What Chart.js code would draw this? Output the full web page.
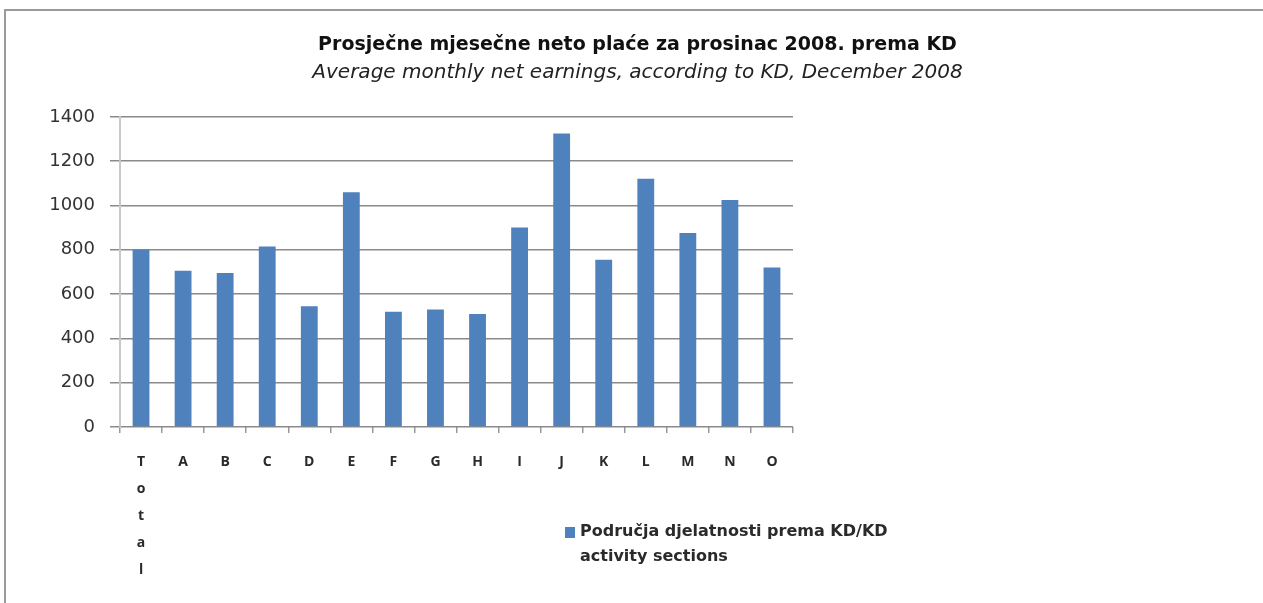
<!DOCTYPE html>
<html lang="hr">
<head>
  <meta charset="UTF-8">
  <title>Prosječne mjesečne neto plaće za prosinac 2008. prema KD</title>
  <script src="https://cdn.jsdelivr.net/npm/chart.js"></script>
  <style>
    html, body { margin: 0; padding: 0; background: #fff; }
    /* okvir kao na izvornoj slici */
    #okvir { position: absolute; left: 4px; top: 9px; width: 1259px; height: 594px;
             border-top: 2px solid #9a9a9a; border-left: 2px solid #9a9a9a; box-sizing: border-box; }
    #wrap { position: absolute; left: 0; top: 0; width: 1263px; height: 603px; }
  </style>
</head>
<body>
  <div id="okvir"></div>
  <div id="wrap"><canvas id="grafikon"></canvas></div>

  <script>
    // Podaci
    const kategorije = [['T', 'o', 't', 'a', 'l'], 'A', 'B', 'C', 'D', 'E', 'F', 'G', 'H', 'I', 'J', 'K', 'L', 'M', 'N', 'O'];
    const place = [800, 705, 695, 815, 545, 1060, 520, 530, 510, 900, 1325, 755, 1120, 875, 1025, 720];
    const yOznake = [0, 200, 400, 600, 800, 1000, 1200, 1400];
    const naslov = 'Prosječne mjesečne neto plaće za prosinac 2008. prema KD';
    const podnaslov = 'Average monthly net earnings, according to KD, December 2008';
    const legendaTekst = ['Područja djelatnosti prema KD/KD', 'activity sections'];

    const boja = '#4f81bd';

    // legenda se crta ručno ispod grafa, desno od oznaka
    const legendaPlugin = {
      id: 'legenda',
      afterDraw(chart) {
        const ctx = chart.ctx;
        ctx.save();
        ctx.fillStyle = chart.data.datasets[0].backgroundColor;
        ctx.fillRect(565, 527, 10, 11);
        ctx.fillStyle = '#2a2a2a';
        ctx.font = 'bold 16px "DejaVu Sans"';
        ctx.textBaseline = 'middle';
        legendaTekst.forEach((t, i) => ctx.fillText(t, 580, 532 + i * 25));
        ctx.restore();
      }
    };

    const ctx = document.getElementById('grafikon').getContext('2d');
    const grafikon = new Chart(ctx, {
      type: 'bar',
      data: {
        labels: kategorije,
        datasets: [{
          label: legendaTekst.join(' '),
          data: place,
          backgroundColor: boja,
          barPercentage: 0.8,
          categoryPercentage: 0.5,
          yAxisID: 'y'
        }]
      },
      options: {
        responsive: true,
        maintainAspectRatio: false,
        animation: false,
        layout: { padding: { left: 12, right: 0, top: 0, bottom: 3 } },
        plugins: {
          legend: { display: false },
          tooltip: { enabled: false },
          title: {
            display: true,
            text: naslov,
            color: '#111',
            font: { family: '"DejaVu Sans"', size: 19, weight: 'bold', lineHeight: 1.15 },
            padding: { top: 34, bottom: 6 }
          },
          subtitle: {
            display: true,
            text: podnaslov,
            color: '#222',
            font: { family: '"DejaVu Sans"', size: 20, style: 'italic', lineHeight: 1.1 },
            padding: { top: 0, bottom: 33 }
          }
        },
        scales: {
          x: {
            grid: { drawOnChartArea: false, drawTicks: true, tickLength: 6, color: '#999', lineWidth: 1.5 },
            border: { display: false },
            ticks: {
              color: '#2a2a2a',
              font: { family: '"Open Sans"', size: 14, weight: 'bold', lineHeight: 1.93 },
              maxRotation: 0,
              autoSkip: false,
              padding: 16
            }
          },
          y: {
            min: 0,
            max: 1400,
            afterFit(scale) { scale.width = 108; },
            afterBuildTicks(scale) { scale.ticks = yOznake.map(v => ({ value: v })); },
            grid: { color: '#8a8a8a', lineWidth: 1.5, tickLength: 10 },
            border: { color: '#c8c8c8', width: 2 },
            ticks: {
              color: '#333',
              font: { family: '"DejaVu Sans"', size: 18 },
              padding: 15,
              callback: v => String(v)
            }
          },
          // prazna os desno: drži prostor gdje nema grafa
          prazno: {
            type: 'linear',
            position: 'right',
            afterFit(scale) { scale.width = 470; },
            grid: { display: false },
            border: { display: false },
            ticks: { display: false }
          }
        }
      },
      plugins: [legendaPlugin]
    });
  </script>
</body>
</html>
